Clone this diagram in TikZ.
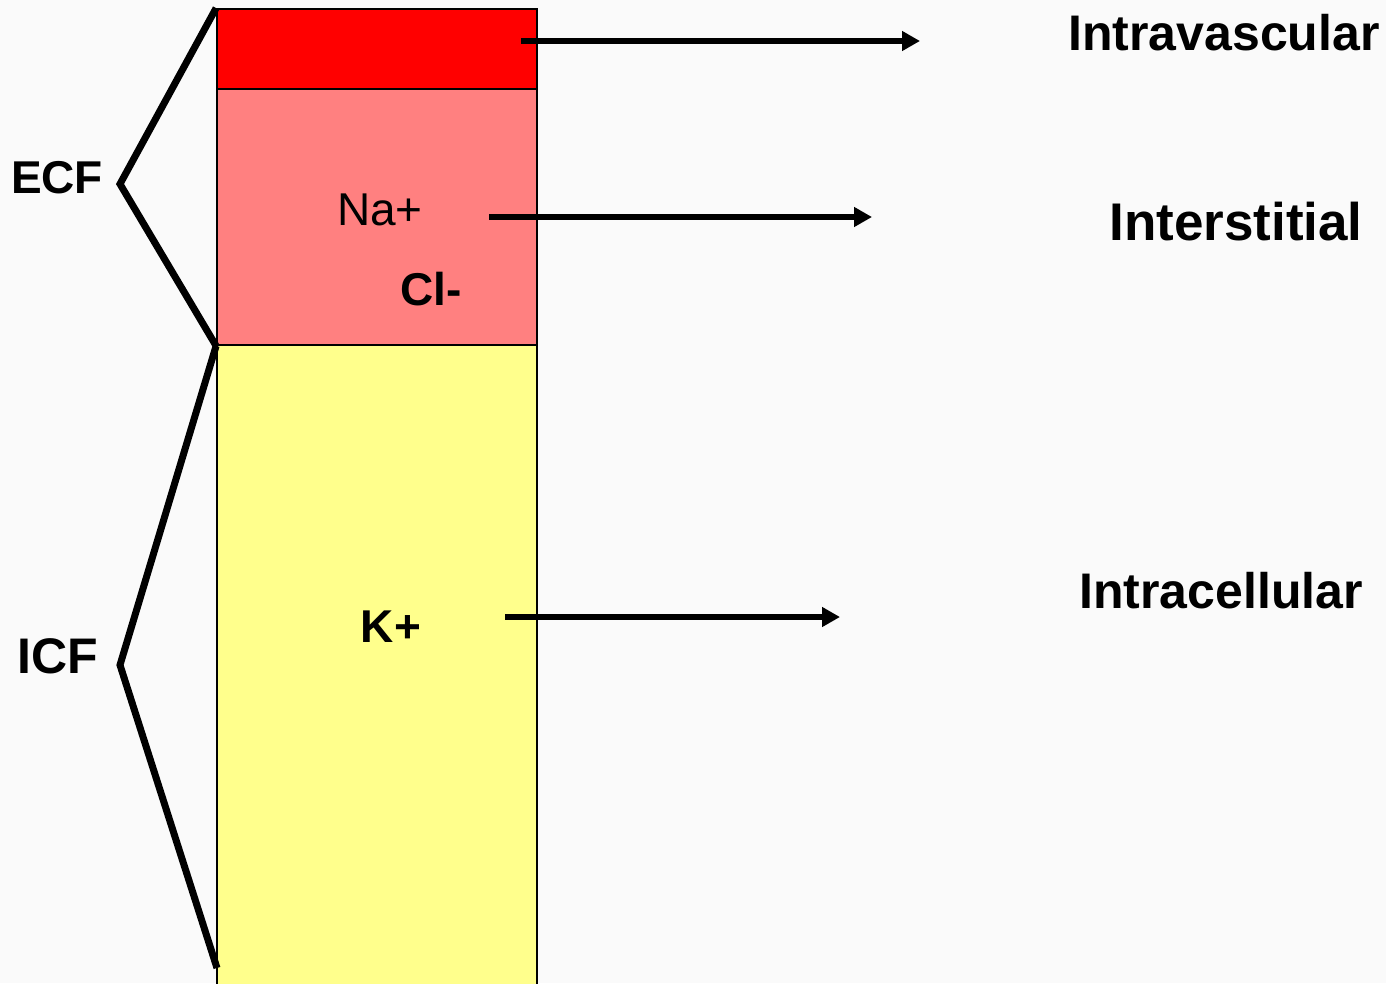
\documentclass[tikz,border=0pt]{standalone}
\usepackage{fontspec}
\setmainfont{Liberation Sans}
\usetikzlibrary{arrows.meta}
\definecolor{bgc}{HTML}{FAFAFA}
\definecolor{ivred}{HTML}{FF0000}
\definecolor{ispink}{HTML}{FF8080}
\definecolor{icyel}{HTML}{FFFF8C}
\tikzset{
  seg/.style={rectangle, draw=black, line width=1.8pt, minimum width=320pt, inner sep=0pt},
  brace/.style={line width=7pt, line join=miter, line cap=butt},
  arr/.style={line width=5.5pt, -{Triangle[length=18pt,width=19pt]}},
  lab/.style={anchor=base, inner sep=0pt, font=\bfseries\fontsize{50}{60}\selectfont},
  ion/.style={anchor=base, inner sep=0pt, font=\bfseries\fontsize{46}{55}\selectfont},
}
\begin{document}
\begin{tikzpicture}[x=1pt,y=-1pt]
\fill[bgc] (0,0) rectangle (1386,983);
\useasboundingbox (0,0) rectangle (1386,983);
% bar segments
\node[seg, fill=ivred, minimum height=80pt] (iv) at (377,49) {};
\node[seg, fill=ispink, minimum height=256pt] (is) at (377,217) {};
\node[seg, fill=icyel, minimum height=650pt] (ic) at (377,670) {};
% ion labels
\node[anchor=base, inner sep=0pt, font=\fontsize{46}{55}\selectfont] (na) at (380,225) {Na+};
\node[ion] (cl) at (431,305) {Cl-};
\node[ion] (k) at (391,642) {K+};
% left labels
\node[ion] (ecf) at (57,193) {ECF};
\node[ion, font=\bfseries\fontsize{50}{60}\selectfont] (icf) at (58,673) {ICF};
% right labels
\node[lab] (tiv) at (1224,50) {Intravascular};
\node[lab, font=\bfseries\fontsize{53}{63}\selectfont] (tis) at (1236,240) {Interstitial};
\node[lab] (tic) at (1221,608) {Intracellular};
% brackets
\coordinate (ecfapex) at (120,184);
\coordinate (icfapex) at (120,665);
\coordinate (icfend) at (217,968);
\draw[brace] (iv.north west) -- (ecfapex) -- (is.south west);
\draw[brace] (is.south west) -- (icfapex) -- (icfend);
% arrows
\coordinate (a1s) at (521,41);
\coordinate (a1e) at (920,41);
\coordinate (a2s) at (489,217);
\coordinate (a2e) at (872,217);
\coordinate (a3s) at (505,617);
\coordinate (a3e) at (840,617);
\draw[arr] (a1s) -- (a1e);
\draw[arr] (a2s) -- (a2e);
\draw[arr] (a3s) -- (a3e);
\end{tikzpicture}
\end{document}
